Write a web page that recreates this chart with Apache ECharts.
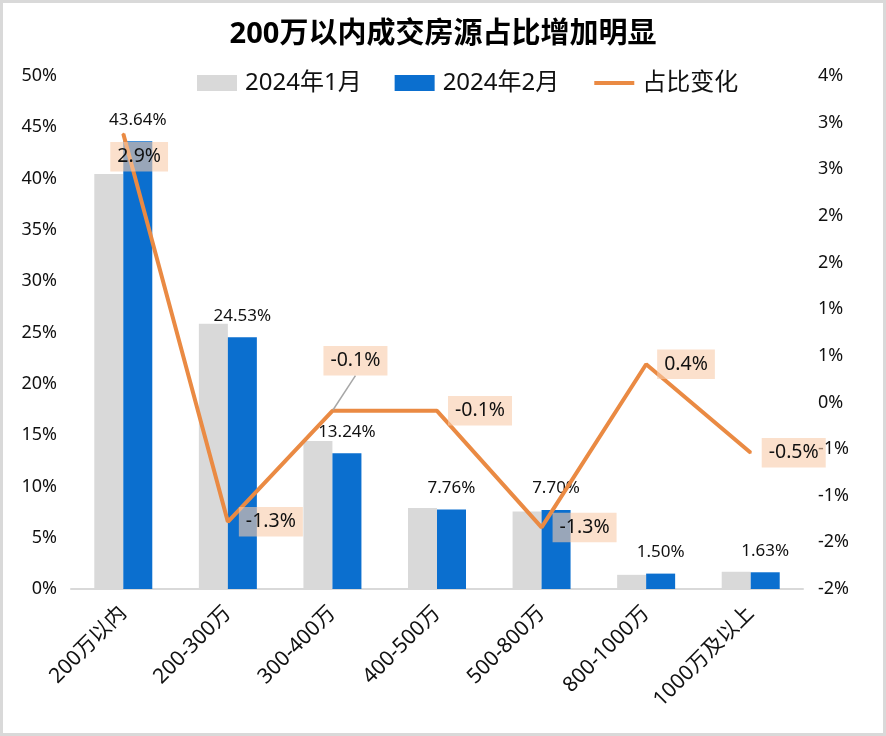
<!DOCTYPE html>
<html>
<head>
<meta charset="utf-8">
<script src="https://cdn.jsdelivr.net/npm/echarts@6/dist/echarts.min.js"></script>
<style>
html,body{margin:0;padding:0;background:#fff;}
#wrap{position:relative;width:886px;height:736px;}
#c{width:886px;height:736px;}
#frame{position:absolute;left:0;top:0;width:886px;height:736px;box-sizing:border-box;border:3px solid #d9d9d9;pointer-events:none;}
</style>
</head>
<body>
<div id="wrap"><div id="c"></div><div id="frame"></div></div>
<script>
const categories = ['200万以内','200-300万','300-400万','400-500万','500-800万','800-1000万','1000万及以上'];
const jan2024 = [40.45, 25.85, 14.42, 7.90, 7.55, 1.38, 1.68];
const feb2024 = [43.64, 24.53, 13.24, 7.76, 7.70, 1.50, 1.63];
const shareChange = [2.88, -1.28, -0.09, -0.09, -1.34, 0.41, -0.54];
const leftTicks = {min: 0, max: 50, interval: 5};
const rightTicks = {min: -2, max: 3.5, interval: 0.5};

const font = '"Noto Sans", "Noto Sans CJK SC", sans-serif';
const txt = '#111';

const lineData = shareChange.map((v, i) => {
  if (i === 2) {
    return {value: v, labelLine: {show: true}};
  }
  return {value: v};
});

const chart = echarts.init(document.getElementById('c'), null, {renderer: 'canvas'});
chart.setOption({
  backgroundColor: '#fff',
  animation: false,
  title: {
    text: '200万以内成交房源占比增加明显',
    left: 'center',
    top: 15,
    textStyle: {fontSize: 29, fontWeight: 'bold', color: '#000', fontFamily: font}
  },
  legend: {
    top: 66,
    left: 192,
    itemWidth: 40,
    itemHeight: 16,
    itemGap: 33,
    textStyle: {fontSize: 24, color: txt, fontFamily: font, padding: [0, 0, 0, 3]},
    data: [
      {name: '2024年1月', icon: 'rect'},
      {name: '2024年2月', icon: 'rect'},
      {name: '占比变化', itemStyle: {opacity: 0}, lineStyle: {width: 4}}
    ]
  },
  grid: {left: 71, right: 83, top: 76, bottom: 147, containLabel: false},
  xAxis: {
    type: 'category',
    data: categories,
    axisTick: {show: false},
    axisLine: {lineStyle: {color: '#d9d9d9', width: 2}},
    axisLabel: {rotate: 45, fontSize: 21, color: txt, fontFamily: font, margin: 21, interval: 0}
  },
  yAxis: [
    {
      type: 'value',
      min: leftTicks.min, max: leftTicks.max, interval: leftTicks.interval,
      splitLine: {show: false},
      axisLine: {show: false},
      axisTick: {show: false},
      axisLabel: {fontSize: 18, color: txt, fontFamily: font, margin: 14, formatter: '{value}%'}
    },
    {
      type: 'value',
      min: rightTicks.min, max: rightTicks.max, interval: rightTicks.interval,
      splitLine: {show: false},
      axisLine: {show: false},
      axisTick: {show: false},
      axisLabel: {
        fontSize: 18, color: txt, fontFamily: font, margin: 15,
        formatter: v => {
          const r = Math.sign(v) * Math.round(Math.abs(v) + 1e-9);
          return (r === 0 ? 0 : r) + '%';
        }
      }
    }
  ],
  series: [
    {
      name: '2024年1月',
      type: 'bar',
      data: jan2024,
      barWidth: 29,
      barGap: '0%',
      itemStyle: {color: '#d9d9d9'}
    },
    {
      name: '2024年2月',
      type: 'bar',
      data: feb2024,
      barWidth: 29,
      itemStyle: {color: '#0b6fcf'},
      label: {
        show: true,
        position: 'top',
        distance: 13,
        fontSize: 17,
        color: '#111',
        fontFamily: font,
        formatter: p => p.value.toFixed(2) + '%'
      }
    },
    {
      name: '占比变化',
      type: 'line',
      yAxisIndex: 1,
      data: lineData,
      symbol: 'circle',
      symbolSize: 2,
      showSymbol: true,
      itemStyle: {color: '#ea8a43'},
      lineStyle: {color: '#ea8a43', width: 4},
      label: {
        show: true,
        position: 'right',
        distance: 10,
        fontSize: 19.5,
        fontFamily: font,
        color: '#111',
        backgroundColor: 'rgba(248,203,170,0.6)',
        padding: [5, 7],
        formatter: p => p.value.toFixed(1) + '%'
      },
      labelLine: {show: false, lineStyle: {color: '#a6a6a6', width: 1.5}},
      labelLayout: function (p) {
        if (p.dataIndex === 0) return {dx: -24, dy: 23};
        if (p.dataIndex === 2) return {dx: -20, dy: -50};
        return {};
      },
      z: 5
    }
  ]
});
</script>
</body>
</html>
